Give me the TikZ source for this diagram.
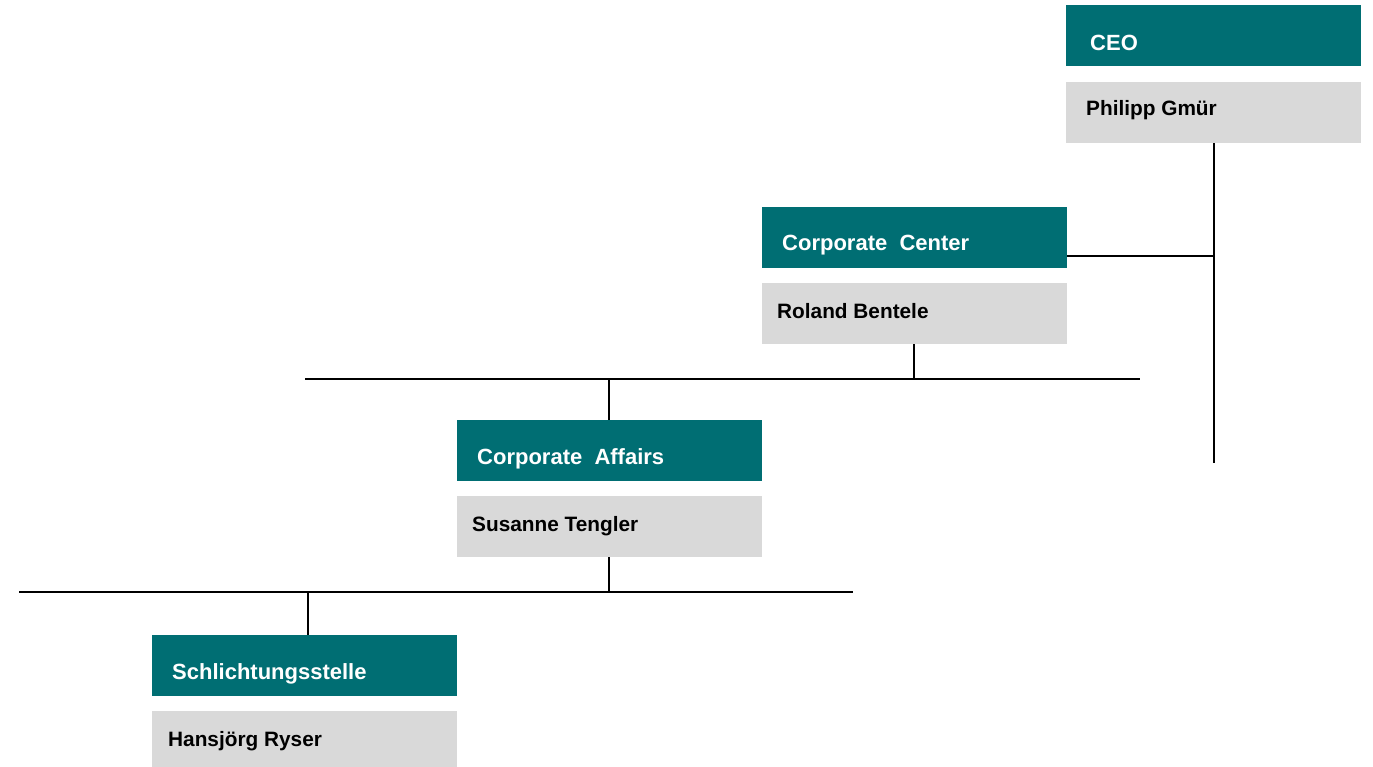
\documentclass[tikz,border=0pt]{standalone}
\usepackage{fontspec}
\setmainfont{Liberation Sans}
\definecolor{teal1}{HTML}{006E73}
\definecolor{grey1}{HTML}{D9D9D9}
\begin{document}
\begin{tikzpicture}[x=1pt,y=-1pt,
  titlebox/.style={fill=teal1,draw=none,anchor=north west,minimum height=61pt,inner sep=0pt},
  namebox/.style={fill=grey1,draw=none,anchor=north west,minimum height=61pt,inner sep=0pt},
  titletext/.style={anchor=base west,inner sep=0pt,text=white,font=\fontsize{22}{24}\selectfont\bfseries},
  nametext/.style={anchor=base west,inner sep=0pt,text=black,font=\fontsize{20.8}{24}\selectfont\bfseries},
  conn/.style={draw=black,line width=1.6pt}]
\useasboundingbox (0,0) rectangle (1373,767);
% CEO
\node[titlebox,minimum width=295pt] (ceo) at (1066,5) {};
\node[namebox,minimum width=295pt] (ceoN) at (1066,82) {};
\node[titletext] (ceoT) at (1090,51) {CEO};
\node[nametext] (ceoNT) at (1086,116) {Philipp Gmür};
% Corporate Center
\node[titlebox,minimum width=305pt] (cc) at (762,207) {};
\node[namebox,minimum width=305pt] (ccN) at (762,283) {};
\node[titletext] (ccT) at (782,251) {Corporate~ Center};
\node[nametext] (ccNT) at (777,318) {Roland Bentele};
% Corporate Affairs
\node[titlebox,minimum width=305pt] (ca) at (457,420) {};
\node[namebox,minimum width=305pt] (caN) at (457,496) {};
\node[titletext] (caT) at (477,464) {Corporate~ Affairs};
\node[nametext] (caNT) at (472,531) {Susanne Tengler};
% Schlichtungsstelle
\node[titlebox,minimum width=305pt] (sc) at (152,635) {};
\node[namebox,minimum width=305pt,minimum height=56pt] (scN) at (152,711) {};
\node[titletext] (scT) at (172,679) {Schlichtungsstelle};
\node[nametext] (scNT) at (168,746) {Hansjörg Ryser};
% connectors
\coordinate (ceoEnd) at (1214,463);
\coordinate (ceoJ) at (1214,256);
\coordinate (ccJ) at (914,379);
\coordinate (bar1L) at (305,379);
\coordinate (bar1R) at (1140,379);
\coordinate (caJ) at (609,379);
\coordinate (caJ2) at (609,592);
\coordinate (bar2L) at (19,592);
\coordinate (bar2R) at (853,592);
\coordinate (scJ) at (308,592);
\draw[conn] (ceoN.south -| ceoEnd) -- (ceoEnd);
\draw[conn] (cc.east |- ceoJ) -- (ceoJ);
\draw[conn] (ccN.south -| ccJ) -- (ccJ);
\draw[conn] (bar1L) -- (bar1R);
\draw[conn] (caJ) -- (ca.north -| caJ);
\draw[conn] (caN.south -| caJ2) -- (caJ2);
\draw[conn] (bar2L) -- (bar2R);
\draw[conn] (scJ) -- (sc.north -| scJ);
\end{tikzpicture}
\end{document}
